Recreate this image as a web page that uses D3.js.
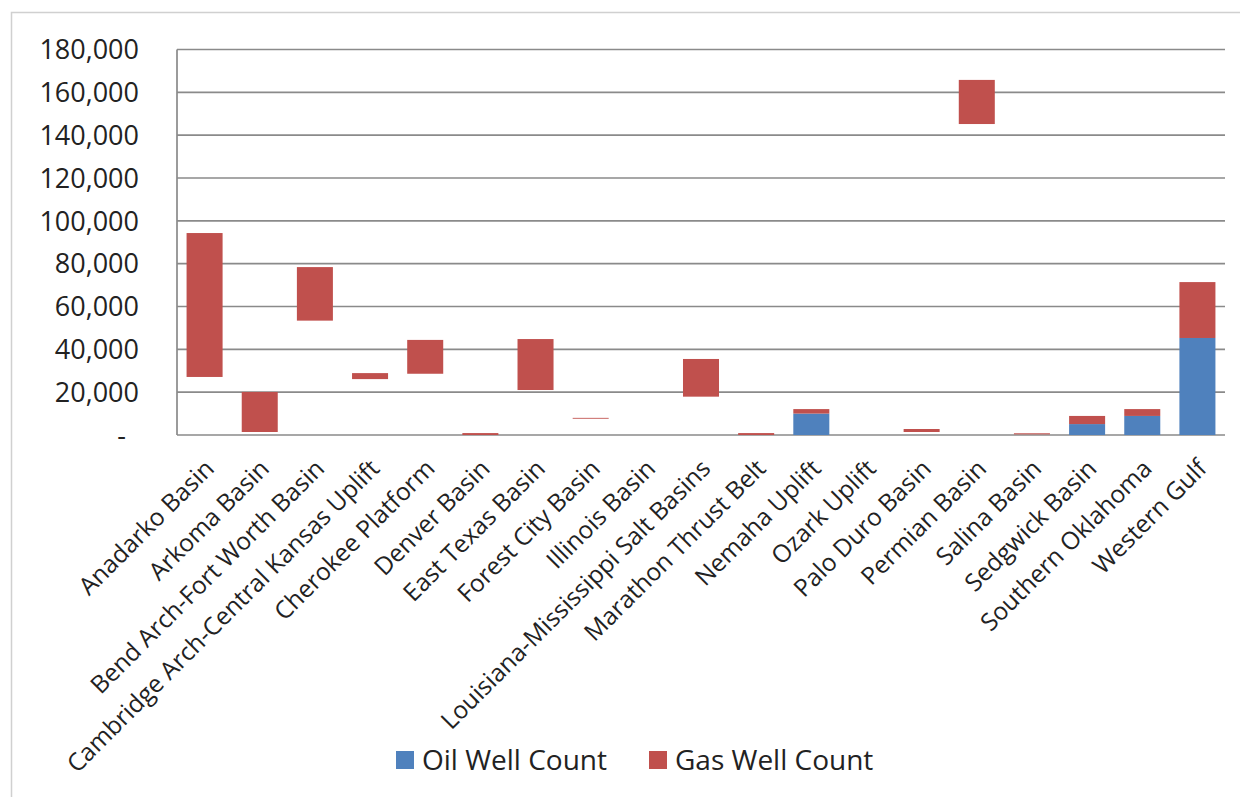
<!DOCTYPE html>
<html>
<head>
<meta charset="utf-8">
<script src="https://cdn.jsdelivr.net/npm/d3@7"></script>
<style>
  body { margin: 0; background: #fff; }
  text { font-family: "Open Sans", sans-serif; fill: #222; }
</style>
</head>
<body>
<div id="chart"></div>
<script>
// basins along the x axis
const basins = ["Anadarko Basin", "Arkoma Basin", "Bend Arch-Fort Worth Basin",
  "Cambridge Arch-Central Kansas Uplift", "Cherokee Platform", "Denver Basin",
  "East Texas Basin", "Forest City Basin", "Illinois Basin",
  "Louisiana-Mississippi Salt Basins", "Marathon Thrust Belt", "Nemaha Uplift",
  "Ozark Uplift", "Palo Duro Basin", "Permian Basin", "Salina Basin",
  "Sedgwick Basin", "Southern Oklahoma", "Western Gulf"];

// oil wells drawn without fill in the original (floating base)
const oilHidden = [27100, 1400, 53400, 26100, 28600, 0, 21000, 7600, 0,
  17900, 0, 0, 0, 1400, 145200, 300, 0, 0, 0];
// oil wells drawn in blue
const oilShown = [0, 0, 0, 0, 0, 0, 0, 0, 0,
  0, 0, 10000, 0, 0, 0, 0, 5100, 8900, 45300];
// gas wells
const gas = [67200, 18700, 25000, 2800, 15800, 900, 23800, 400, 0,
  17600, 900, 2100, 0, 1400, 20600, 500, 3800, 3200, 26100];

const yTicks = [0, 20000, 40000, 60000, 80000, 100000, 120000, 140000, 160000, 180000];
const seriesNames = ["Oil Well Count", "Gas Well Count"];

const width = 1240, height = 797;
const margin = { top: 49.5, bottom: 362, left: 177, right: 15 };

const colors = { base: "none", oil: "#4F81BD", gas: "#C0504D" };

const svg = d3.select("#chart").append("svg")
  .attr("width", width)
  .attr("height", height);

// outer chart border
svg.append("rect")
  .attr("x", 11.5).attr("y", 12.5)
  .attr("width", width).attr("height", height)
  .attr("fill", "none")
  .attr("stroke", "#d0d0d0")
  .attr("stroke-width", 1.5);

const xScale = d3.scaleBand()
  .domain(basins)
  .range([margin.left, width - margin.right])
  .paddingInner(0.347)
  .paddingOuter(0.1735);

const yScale = d3.scaleLinear()
  .domain([0, 180000])
  .range([height - margin.bottom, margin.top]);

// gridlines
svg.append("g")
  .selectAll("line")
  .data(yTicks)
  .join("line")
  .attr("x1", margin.left)
  .attr("x2", width - margin.right)
  .attr("y1", d => yScale(d))
  .attr("y2", d => yScale(d))
  .attr("stroke", "#8a8a8a")
  .attr("stroke-width", 1.7);

// left axis line
svg.append("line")
  .attr("x1", margin.left).attr("x2", margin.left)
  .attr("y1", yScale(180000)).attr("y2", yScale(0))
  .attr("stroke", "#8a8a8a")
  .attr("stroke-width", 1.7);

// y labels
const fmt = d3.format(",");
svg.append("g")
  .selectAll("text")
  .data(yTicks)
  .join("text")
  .attr("x", d => d === 0 ? 126 : 139)
  .attr("y", d => yScale(d))
  .attr("dy", "0.36em")
  .attr("text-anchor", "end")
  .style("font-size", "27px")
  .text(d => d === 0 ? "-" : fmt(d));

// stacked bars
const rows = basins.map((b, i) => ({ basin: b, base: oilHidden[i], oil: oilShown[i], gas: gas[i] }));
const stack = d3.stack().keys(["base", "oil", "gas"]);
const layers = stack(rows);

svg.append("g")
  .selectAll("g")
  .data(layers)
  .join("g")
  .attr("fill", d => colors[d.key])
  .selectAll("rect")
  .data(d => d)
  .join("rect")
  .attr("x", d => xScale(d.data.basin))
  .attr("y", d => yScale(d[1]))
  .attr("width", xScale.bandwidth())
  .attr("height", d => yScale(d[0]) - yScale(d[1]));

// category labels, rotated
svg.append("g")
  .selectAll("text")
  .data(basins)
  .join("text")
  .attr("text-anchor", "end")
  .attr("transform", d => `translate(${xScale(d) + xScale.bandwidth() / 2 + 11},${470}) rotate(-45)`)
  .style("font-size", "24.5px")
  .text(d => d);

// legend
const legend = svg.append("g")
  .selectAll("g")
  .data(seriesNames)
  .join("g")
  .attr("transform", (d, i) => `translate(${i === 0 ? 396 : 649},751)`);

legend.append("rect")
  .attr("width", 18)
  .attr("height", 18)
  .attr("fill", (d, i) => i === 0 ? colors.oil : colors.gas);

legend.append("text")
  .attr("x", 26)
  .attr("y", 9)
  .attr("dy", "0.36em")
  .style("font-size", "28px")
  .text(d => d);
</script>
</body>
</html>
